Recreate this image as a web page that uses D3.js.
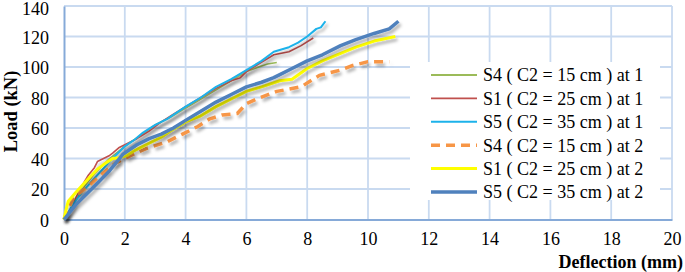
<!DOCTYPE html>
<html>
<head>
<meta charset="utf-8">
<script src="https://cdn.jsdelivr.net/npm/d3@7"></script>
<style>
  body { margin: 0; background: #fff; }
  #chart { width: 685px; height: 272px; }
  svg text { font-family: "Liberation Serif", "Times New Roman", Times, "DejaVu Serif", serif; fill: #000; }
</style>
</head>
<body>
<div id="chart"></div>
<script>
// deflection (mm), load (kN)
const s4At1 = [[0,0],[0.3,9],[0.6,20],[1.0,30],[1.5,40],[2.0,48],[2.5,55],[3.0,62],[3.5,67],[3.9,72],[4.5,79],[5.0,85],[5.5,91],[6.0,97],[6.4,100],[6.7,102],[7.0,103]];
const s1At1 = [[0,0],[0.2,6],[0.5,19],[0.8,29],[1.0,34],[1.1,38],[1.3,40],[1.5,42],[1.6,43.5],[1.8,47],[2.0,49],[2.4,53],[2.8,58],[3.2,64],[3.6,69],[4.0,74],[4.5,80],[5.0,86],[5.5,91],[5.8,93],[6.0,97],[6.4,102],[6.9,108],[7.4,110],[7.8,114],[8.2,119]];
const s5At1 = [[0,0],[0.3,10],[0.6,18],[1.0,27],[1.5,38],[2.0,48],[2.3,52],[2.6,57],[3.0,62],[3.4,66],[4.0,74],[4.5,80],[5.0,87],[5.5,92],[6.0,98],[6.5,104],[6.9,110],[7.4,113],[7.7,116],[8.0,120],[8.3,125],[8.45,126],[8.6,130]];
const s4At2 = [[0,0],[0.3,14],[0.75,21],[1.2,29],[1.7,37],[2.2,42],[2.7,46.5],[3.4,51],[3.9,56],[4.4,61],[4.8,66],[5.2,68.5],[5.7,69.5],[6.0,76],[6.4,79.5],[7.0,84],[7.8,87],[8.4,94.5],[9.1,98],[9.5,101],[10.0,103.5],[10.7,103.5]];
const s1At2 = [[0,0],[0.05,5],[0.14,12],[0.4,18],[0.86,28],[1.1,33],[1.3,36],[1.6,40],[1.8,40.5],[2.06,42],[2.3,45],[2.5,47],[2.8,50],[3.2,54],[3.5,58],[4.0,64],[4.5,68],[5.0,74],[5.5,79],[6.0,84],[6.5,87],[7.1,91],[7.5,92],[8.0,99],[8.5,104],[9.1,109],[9.6,113],[10.2,117],[10.9,120]];
const s5At2 = [[0,0],[0.4,10],[0.96,21],[1.5,32],[1.95,43],[2.4,49],[2.8,53],[3.2,56],[3.6,60],[4.0,65],[4.5,71],[5.0,77],[5.5,82],[6.0,87],[6.5,90],[6.9,93],[7.1,95],[7.5,99],[8.0,104],[8.5,108],[9.1,114],[9.6,118],[10.2,122],[10.7,125],[11.0,130]];

const seriesNames = ['S4 ( C2 = 15 cm ) at 1', 'S1 ( C2 = 25 cm ) at 1', 'S5 ( C2 = 35 cm ) at 1',
                     'S4 ( C2 = 15 cm ) at 2', 'S1 ( C2 = 25 cm ) at 2', 'S5 ( C2 = 35 cm ) at 2'];
const seriesData = [s4At1, s1At1, s5At1, s4At2, s1At2, s5At2];
const xTicks = [0, 2, 4, 6, 8, 10, 12, 14, 16, 18, 20];
const yTicks = [0, 20, 40, 60, 80, 100, 120, 140];

const styles = [
    { color: '#9bbb59', width: 1.6, dash: null },
    { color: '#c0504d', width: 1.6, dash: null },
    { color: '#1cb2ea', width: 2, dash: null },
    { color: '#f79646', width: 3.5, dash: '9,6' },
    { color: '#ffff00', width: 3, dash: null },
    { color: '#4f81bd', width: 3.5, dash: null }
];

const FONT = '"Liberation Serif", "Times New Roman", Times, "DejaVu Serif", serif';
const W = 685, H = 272;
const margin = { top: 6, right: 13, bottom: 52.5, left: 64 };

const svg = d3.select('#chart').append('svg')
    .attr('width', W)
    .attr('height', H)
    .attr('font-family', FONT);

const defs = svg.append('defs');
defs.append('filter')
    .attr('id', 'shadow')
    .attr('x', '-10%').attr('y', '-10%')
    .attr('width', '130%').attr('height', '130%')
    .append('feDropShadow')
    .attr('dx', 2).attr('dy', 3)
    .attr('stdDeviation', 1.5)
    .attr('flood-color', '#000')
    .attr('flood-opacity', 0.3);

const x = d3.scaleLinear().domain([0, 20]).range([margin.left, W - margin.right]);
const y = d3.scaleLinear().domain([0, 140]).range([H - margin.bottom, margin.top]);

// gridlines
svg.append('g')
    .selectAll('line')
    .data(yTicks.slice(1))
    .enter()
    .append('line')
    .attr('x1', x(0)).attr('x2', x(20))
    .attr('y1', d => y(d)).attr('y2', d => y(d))
    .attr('stroke', '#c9daf0')
    .attr('stroke-width', 1.8);

svg.append('g')
    .selectAll('line')
    .data(xTicks.slice(1))
    .enter()
    .append('line')
    .attr('x1', d => x(d)).attr('x2', d => x(d))
    .attr('y1', y(0)).attr('y2', y(140))
    .attr('stroke', '#c9daf0')
    .attr('stroke-width', 1.8);

// axes
const xAxis = svg.append('g')
    .attr('transform', `translate(0,${y(0)})`)
    .call(d3.axisBottom(x).tickValues(xTicks).tickSize(0).tickPadding(13));
const yAxis = svg.append('g')
    .attr('transform', `translate(${x(0)},0)`)
    .call(d3.axisLeft(y).tickValues(yTicks).tickSize(0).tickPadding(15));

[xAxis, yAxis].forEach(a => {
    a.attr('font-family', FONT).attr('font-size', 18);
    a.select('.domain').attr('stroke', '#86aad8').attr('stroke-width', 2);
    a.selectAll('text').attr('fill', '#000');
});
yAxis.selectAll('text').attr('dy', d => d === 140 ? '0.42em' : '0.38em');
yAxis.selectAll('.tick').filter(d => d === 140).attr('transform', `translate(0,${y(140) + 1.5})`);

// series
const line = d3.line()
    .x(d => x(d[0]))
    .y(d => y(d[1]));

svg.append('g')
    .selectAll('path')
    .data(seriesData)
    .enter()
    .append('path')
    .attr('d', line)
    .attr('fill', 'none')
    .attr('stroke', (d, i) => styles[i].color)
    .attr('stroke-width', (d, i) => styles[i].width)
    .attr('stroke-dasharray', (d, i) => styles[i].dash)
    .attr('stroke-linejoin', 'round')
    .attr('filter', 'url(#shadow)');

// legend
const legend = svg.append('g');
legend.append('rect')
    .attr('x', 410).attr('y', 62)
    .attr('width', 250).attr('height', 138)
    .attr('fill', '#fff');

const rows = legend.selectAll('.row')
    .data(seriesNames)
    .enter()
    .append('g')
    .attr('class', 'row')
    .attr('transform', (d, i) => `translate(431,${75 + i * 23.4})`);

rows.append('line')
    .attr('x1', 0).attr('x2', 46)
    .attr('stroke', (d, i) => styles[i].color)
    .attr('stroke-width', (d, i) => Math.max(styles[i].width, 1.8))
    .attr('stroke-dasharray', (d, i) => styles[i].dash);

rows.append('text')
    .attr('x', 52)
    .attr('dy', '0.35em')
    .attr('font-size', 18)
    .text(d => d);

// axis titles
svg.append('text')
    .attr('transform', 'translate(17,111.5) rotate(-90)')
    .attr('text-anchor', 'middle')
    .attr('font-size', 18.5)
    .attr('font-weight', 'bold')
    .text('Load (kN)');

svg.append('text')
    .attr('x', 683)
    .attr('y', 268)
    .attr('text-anchor', 'end')
    .attr('font-size', 18)
    .attr('font-weight', 'bold')
    .text('Deflection (mm)');
</script>
</body>
</html>
